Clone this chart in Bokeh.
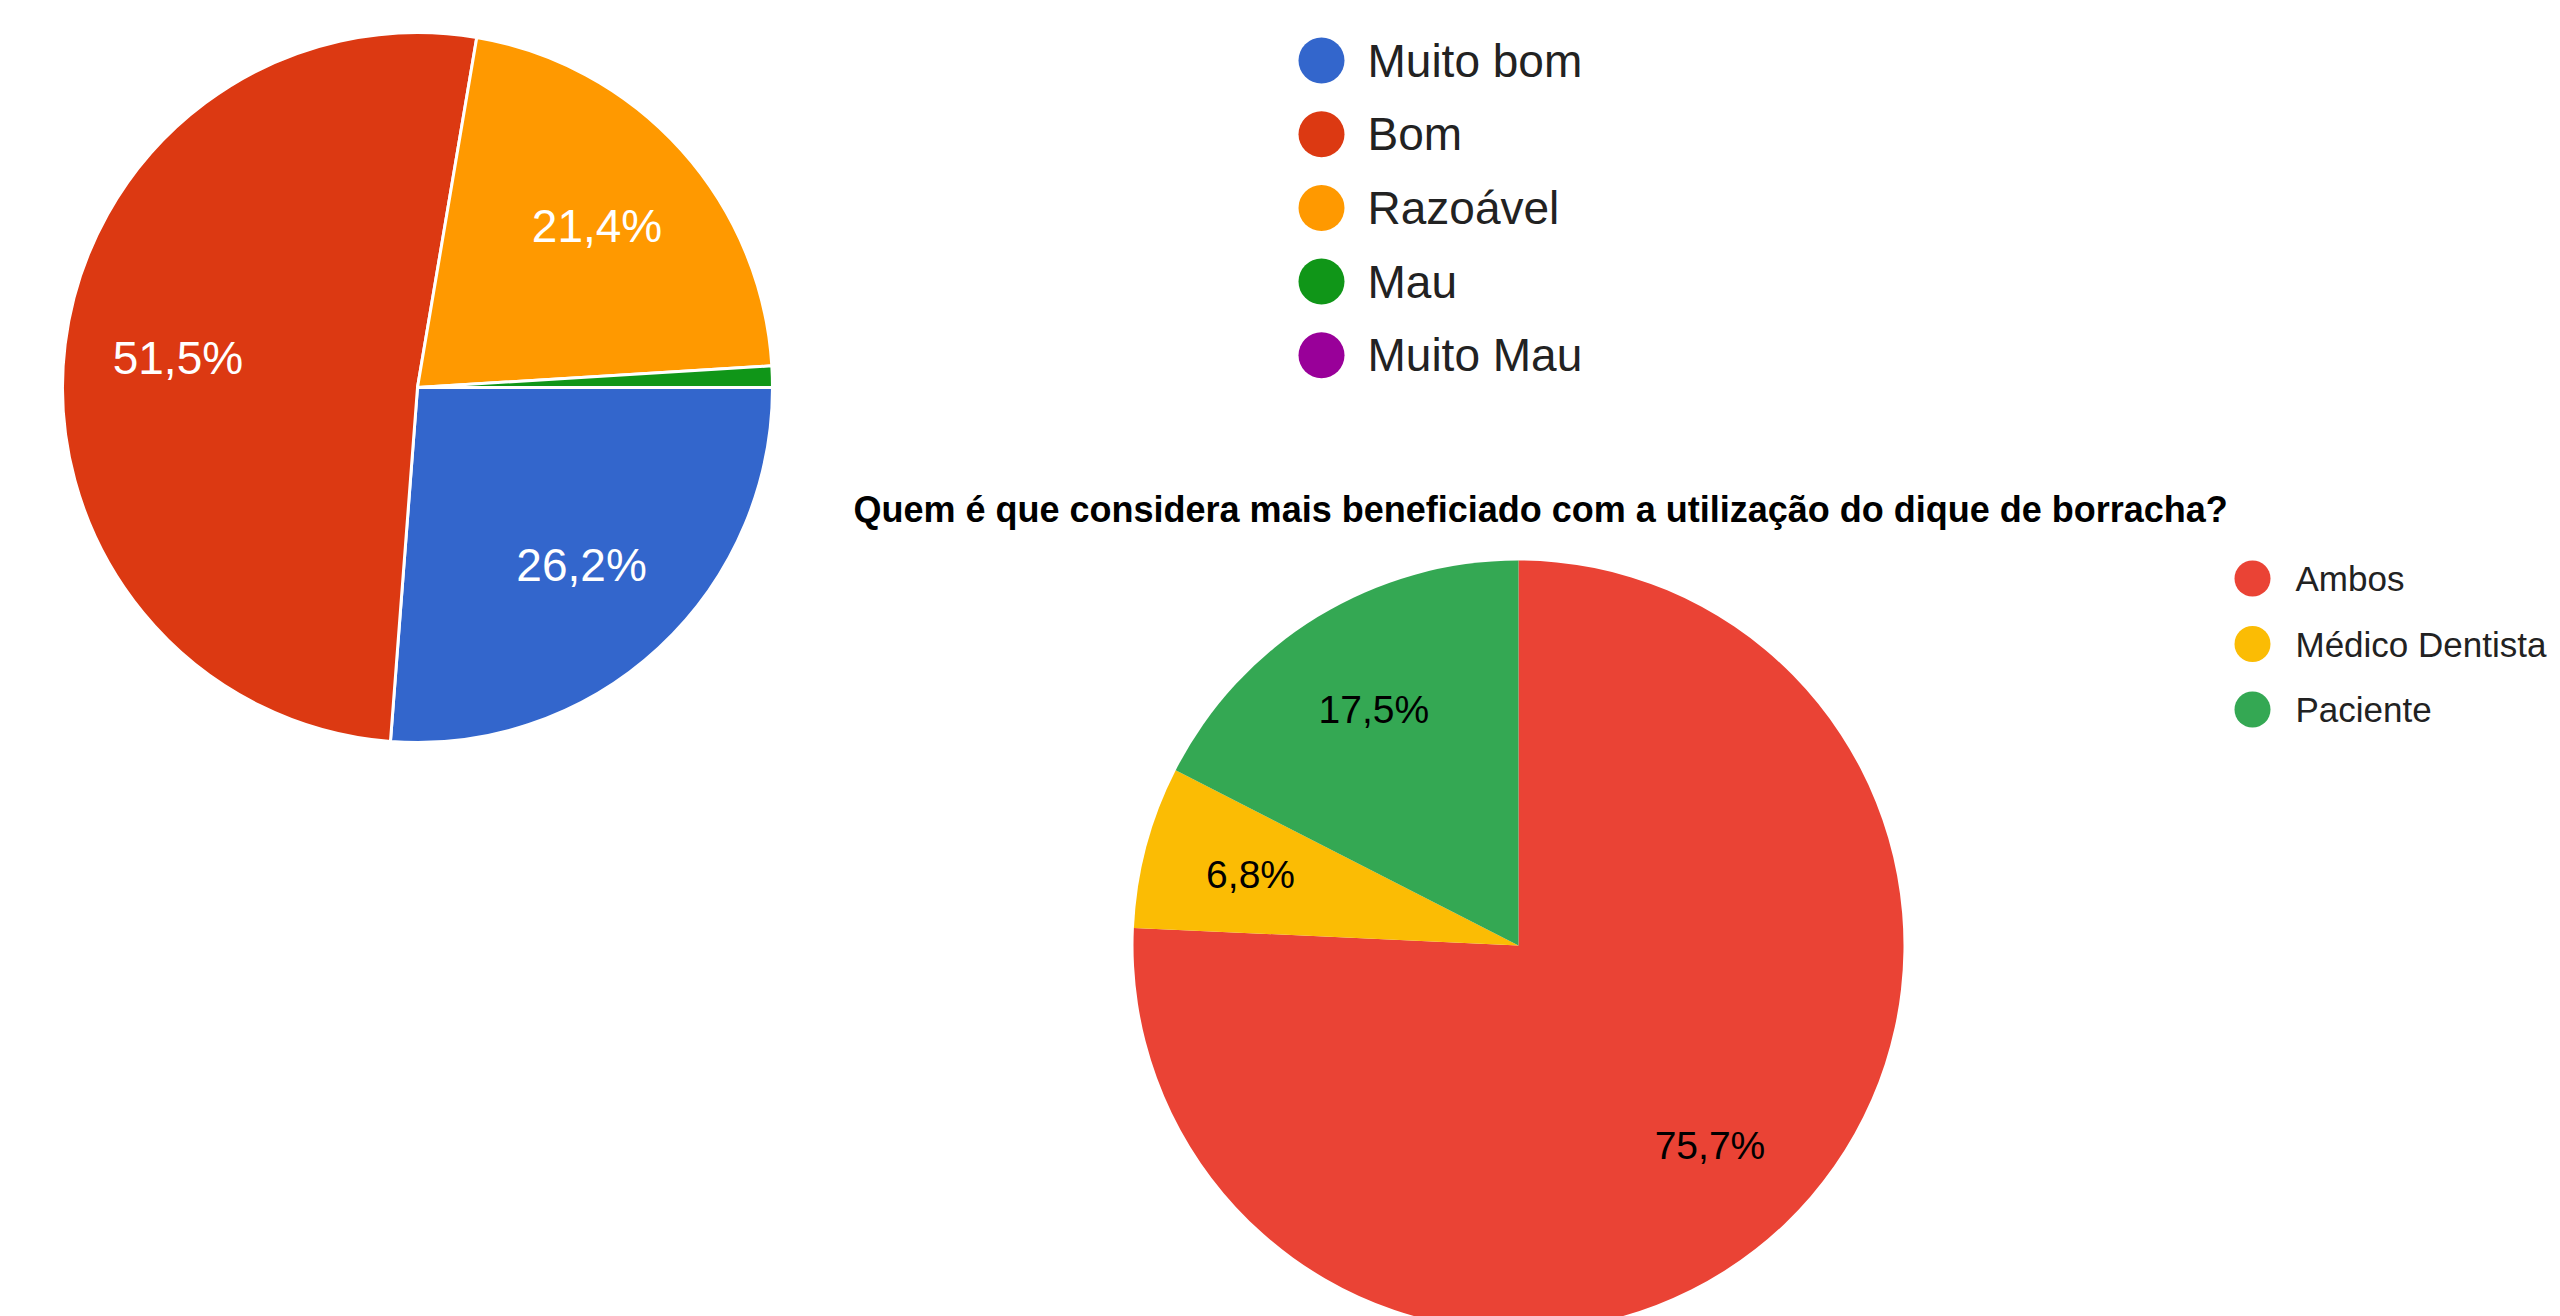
import numpy as np
from bokeh.plotting import figure
from bokeh.models import Range1d, ColumnDataSource
from bokeh.embed import file_html
from bokeh.resources import INLINE
from bokeh.core.properties import value

W, H = 2560, 1316

# ---- data: question 1 (title cropped off in the screenshot) ----
q1_categories = ["Muito bom", "Bom", "Razoável", "Mau", "Muito Mau"]
q1_counts = [27, 53, 22, 1, 0]
q1_colors = ["#3366CC", "#DC3912", "#FF9900", "#109618", "#990099"]

# ---- data: question 2 ----
q2_title = "Quem é que considera mais beneficiado com a utilização do dique de borracha?"
q2_categories = ["Ambos", "Médico Dentista", "Paciente"]
q2_counts = [78, 7, 18]
q2_colors = ["#EA4335", "#FBBC04", "#34A853"]

FONT = "Liberation Sans"

p = figure(width=W, height=H, x_range=Range1d(0, W), y_range=Range1d(0, H),
           output_backend="svg", toolbar_location=None, min_border=0,
           x_axis_location=None, y_axis_location=None)
p.grid.visible = False
p.outline_line_color = None
p.background_fill_color = "white"
p.border_fill_color = "white"


def sy(y):
    # screen y (from top) -> data y
    return H - y


def pie(cx, cy, r, counts, colors, ref_angle, line_color, line_width,
        label_frac, label_color, font_size):
    counts = np.array(counts, dtype=float)
    frac = counts / counts.sum()
    cum = np.concatenate([[0.0], np.cumsum(frac)]) * 2 * np.pi
    start = ref_angle - cum[1:]
    end = ref_angle - cum[:-1]
    keep = frac > 0
    src = ColumnDataSource(dict(
        x=[cx] * int(keep.sum()), y=[cy] * int(keep.sum()),
        start=start[keep], end=end[keep],
        color=[c for c, k in zip(colors, keep) if k]))
    p.wedge(x="x", y="y", radius=r, start_angle="start", end_angle="end",
            fill_color="color", line_color=line_color, line_width=line_width,
            source=src)
    mid = (start + end) / 2
    show = frac > 0.02
    lx = cx + label_frac * r * np.cos(mid)
    ly = cy + label_frac * r * np.sin(mid)
    labels = [f"{f * 100:.1f}%".replace(".", ",") for f in frac]
    lsrc = ColumnDataSource(dict(x=lx[show], y=ly[show],
                                 t=[l for l, s in zip(labels, show) if s]))
    p.text(x="x", y="y", text="t", source=lsrc, text_color=label_color,
           text_font=value(FONT), text_font_size=font_size,
           text_align="center", text_baseline="middle")


def legend(x, y0, dy, cats, colors, size, font_size, text_dx):
    n = len(cats)
    ys = [sy(y0 + i * dy) for i in range(n)]
    p.scatter(x=[x] * n, y=ys, size=size, fill_color=colors, line_color=None)
    p.text(x=[x + text_dx] * n, y=ys, text=cats, text_color="#222222",
           text_font=value(FONT), text_font_size=font_size,
           text_align="left", text_baseline="middle")


# Chart 1 (starts at 3 o'clock, clockwise)
pie(417, sy(387), 355, q1_counts, q1_colors, 0.0, "white", 3,
    0.68, "white", "46px")
legend(1321, 60, 73.7, q1_categories, q1_colors, 46, "46px", 46)

# Chart 2 (starts at 12 o'clock, clockwise)
p.text(x=[853], y=[sy(509)], text=[q2_title], text_color="#000000",
       text_font=value(FONT), text_font_size="36px", text_font_style="bold",
       text_align="left", text_baseline="middle")
pie(1518, sy(945), 385, q2_counts, q2_colors, np.pi / 2, None, 0,
    0.72, "#000000", "39px")
legend(2252, 578, 65.5, q2_categories, q2_colors, 36, "35px", 43)

open("out.html", "w").write(file_html(p, INLINE))
